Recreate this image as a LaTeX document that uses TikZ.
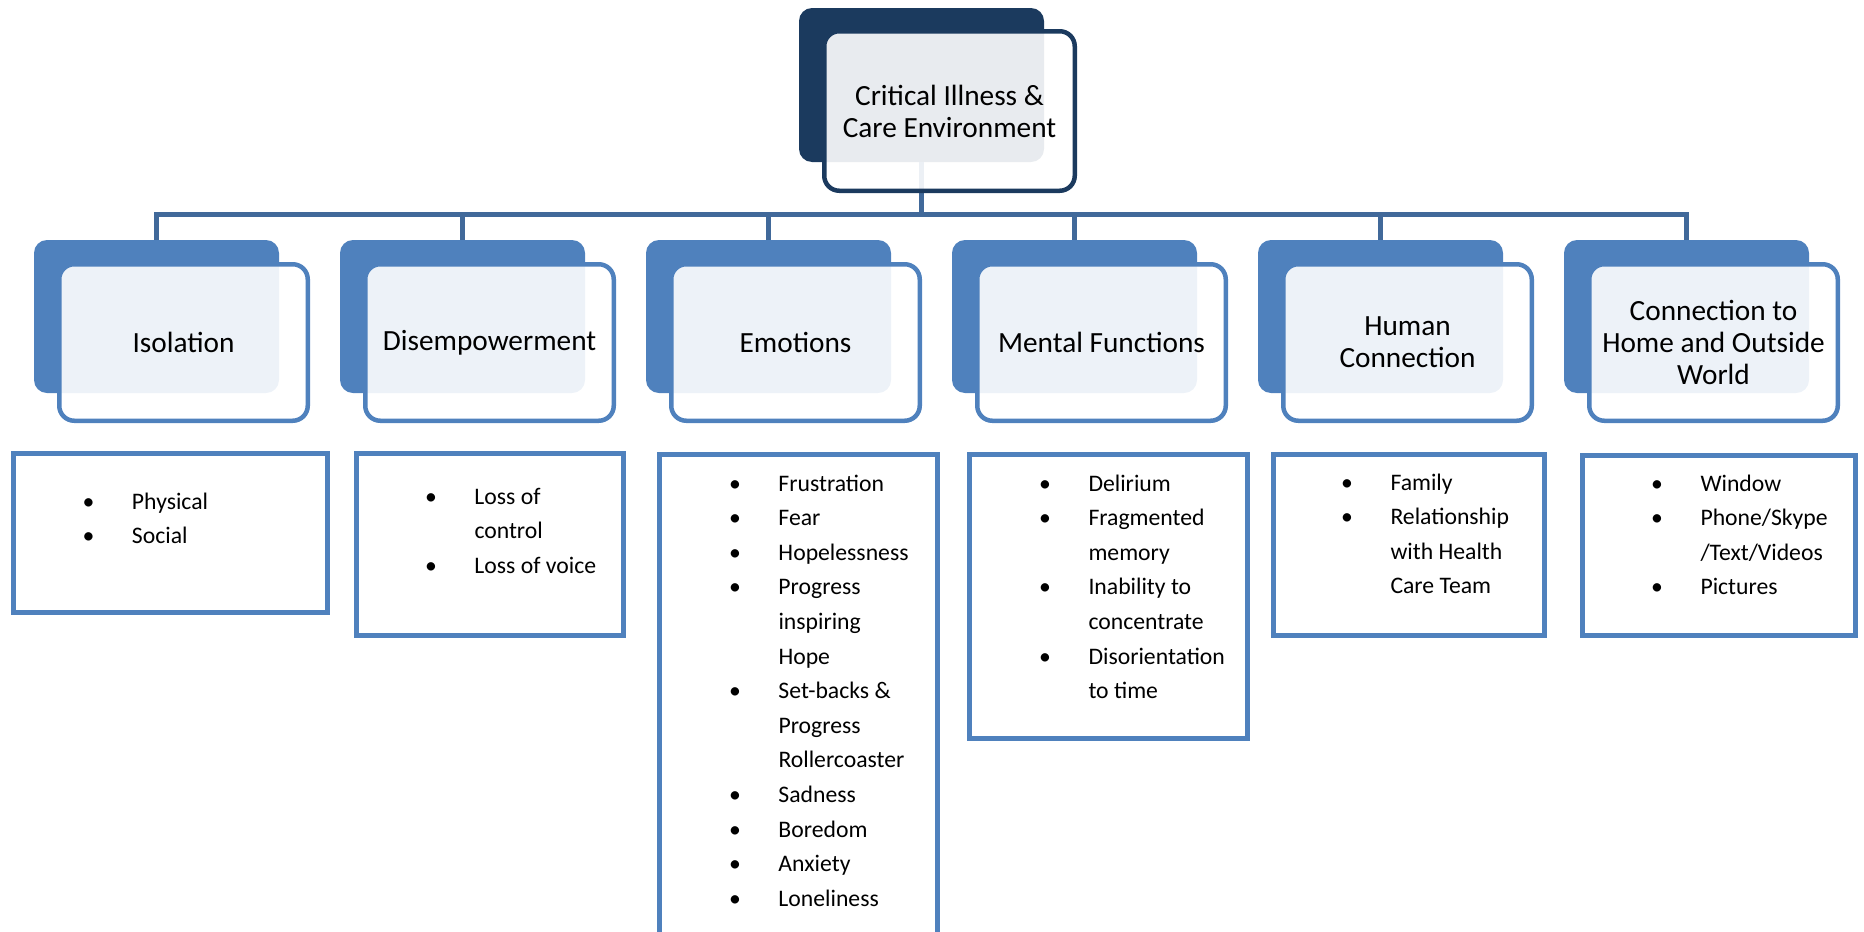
\documentclass[tikz,border=0pt]{standalone}
\usepackage{fontspec}
\setmainfont{Carlito}
\definecolor{dark}{HTML}{1B3A5E}
\definecolor{acc}{HTML}{4F81BD}
\definecolor{conncol}{HTML}{41699A}
\newcommand\hdfont{\fontsize{14.65pt}{16pt}\selectfont}
\newcommand\lsfont{\fontsize{11.85pt}{17.3pt}\selectfont}
\newcommand\bi{\makebox[0pt]{\textbullet}\hspace{21.75pt}}
\newcommand\bc{\hspace{21.75pt}}
\tikzset{
  every node/.style={inner sep=0pt, outer sep=0pt},
  backtop/.style={rectangle, rounded corners=6.5pt, fill=dark, minimum width=122.5pt, minimum height=77pt},
  fronttop/.style={rectangle, rounded corners=7.5pt, draw=dark, line width=2.25pt, fill=white, fill opacity=0.9, text opacity=1, draw opacity=1, minimum width=125.25pt, minimum height=79.75pt, font=\hdfont, align=center},
  backbox/.style={rectangle, rounded corners=6.5pt, fill=acc, minimum width=122.5pt, minimum height=76.5pt},
  frontbox/.style={rectangle, rounded corners=7.5pt, draw=acc, line width=2.25pt, fill=white, fill opacity=0.9, text opacity=1, draw opacity=1, minimum width=124.25pt, minimum height=78.25pt, font=\hdfont, align=center},
  listbox/.style={rectangle, draw=acc, line width=2.5pt},
  listtext/.style={anchor=base west, font=\lsfont},
  connector/.style={draw=conncol, line width=2.5pt},
}
\begin{document}
\begin{tikzpicture}[x=0.5pt, y=-0.5pt]
\useasboundingbox (0,0) rectangle (1864,932);
\clip (0,0) rectangle (1864,932);
% top back box
\node[backtop] (tb) at (921.5,85) {};
% children back boxes
\node[backbox] (b1) at (156.5,316.5) {};
\node[backbox] (b2) at (462.5,316.5) {};
\node[backbox] (b3) at (768.5,316.5) {};
\node[backbox] (b4) at (1074.5,316.5) {};
\node[backbox] (b5) at (1380.5,316.5) {};
\node[backbox] (b6) at (1686.5,316.5) {};
% connectors
\coordinate (hb) at (0,214);
\foreach \c in {b1,b2,b3,b4,b5,b6}{
  \draw[connector] (tb.south) -- (tb.south |- hb) -| (\c.north);
}
% front boxes
\node[fronttop] (tf) at (949.5,111) {Critical Illness \&\\Care Environment};
\node[frontbox] (f1) at (183.5,342.5) {Isolation};
\node[frontbox] (f2) at (489.5,342.5) {Disempowerment};
\node[frontbox] (f3) at (795.5,342.5) {Emotions};
\node[frontbox] (f4) at (1101.5,342.5) {Mental Functions};
\node[frontbox] (f5) at (1407.5,342.5) {Human\\Connection};
\node[frontbox] (f6) at (1713.5,342.5) {Connection to\\Home and Outside\\World};
% list boxes
\node[listbox, minimum width=157pt, minimum height=79.5pt] (l1) at (170.5,533) {};
\node[listbox, minimum width=133.5pt, minimum height=91pt] (l2) at (490,544.5) {};
\node[listbox, minimum width=139pt, minimum height=267.75pt] (l3) at (798.5,722.25) {};
\node[listbox, minimum width=139pt, minimum height=142pt] (l4) at (1108.5,596.5) {};
\node[listbox, minimum width=135.5pt, minimum height=90.5pt] (l5) at (1409,545) {};
\node[listbox, minimum width=136.5pt, minimum height=90pt] (l6) at (1719,545.5) {};
% list texts
\node[listtext] (t1) at (88.5,509) {\begin{tabular}[t]{@{}l@{}}\bi Physical\\ \bi Social\end{tabular}};
\node[listtext] (t2) at (431,504) {\begin{tabular}[t]{@{}l@{}}\bi Loss of\\ \bc control\\ \bi Loss of voice\end{tabular}};
\node[listtext] (t3) at (735,491) {\begin{tabular}[t]{@{}l@{}}\bi Frustration\\ \bi Fear\\ \bi Hopelessness\\ \bi Progress\\ \bc inspiring\\ \bc Hope\\ \bi Set-backs \&\\ \bc Progress\\ \bc Rollercoaster\\ \bi Sadness\\ \bi Boredom\\ \bi Anxiety\\ \bi Loneliness\end{tabular}};
\node[listtext] (t4) at (1045,491) {\begin{tabular}[t]{@{}l@{}}\bi Delirium\\ \bi Fragmented\\ \bc memory\\ \bi Inability to\\ \bc concentrate\\ \bi Disorientation\\ \bc to time\end{tabular}};
\node[listtext] (t5) at (1347,490) {\begin{tabular}[t]{@{}l@{}}\bi Family\\ \bi Relationship\\ \bc with Health\\ \bc Care Team\end{tabular}};
\node[listtext] (t6) at (1657,491) {\begin{tabular}[t]{@{}l@{}}\bi Window\\ \bi Phone/Skype\\ \bc /Text/Videos\\ \bi Pictures\end{tabular}};
\end{tikzpicture}
\end{document}
